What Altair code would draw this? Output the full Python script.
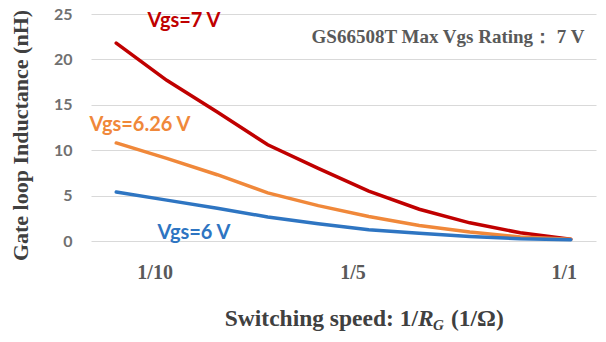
import altair as alt
import pandas as pd

# R_G = 10 ... 1 ohm  (index 0..9)
rg_index = [0, 1, 2, 3, 4, 5, 6, 7, 8, 9]
vgs7 = [21.8, 17.7, 14.2, 10.6, 8.0, 5.5, 3.5, 2.0, 0.9, 0.2]
vgs626 = [10.8, 9.1, 7.3, 5.3, 3.9, 2.7, 1.7, 1.0, 0.45, 0.2]
vgs6 = [5.4, 4.5, 3.6, 2.65, 1.9, 1.25, 0.85, 0.5, 0.25, 0.15]

series_names = ["Vgs=7 V", "Vgs=6.26 V", "Vgs=6 V"]
series_colors = ["#C00000", "#F0883A", "#2E75C2"]

tick_labels = ["1/10", "1/5", "1/1"]
tick_pos = [0.77, 4.69, 8.87]

rows = []
for name, vals in zip(series_names, [vgs7, vgs626, vgs6]):
    for i, v in zip(rg_index, vals):
        rows.append({"idx": i, "L": v, "series": name})
df = pd.DataFrame(rows)

xscale = alt.Scale(domain=[-0.5, 9.5], nice=False, zero=False)
yscale = alt.Scale(domain=[0, 25], nice=False)

lines = alt.Chart(df).mark_line(strokeWidth=3.5, strokeCap="round").encode(
    x=alt.X("idx:Q", scale=xscale, axis=None),
    y=alt.Y(
        "L:Q",
        scale=yscale,
        axis=alt.Axis(
            values=[0, 5, 10, 15, 20, 25],
            grid=True,
            gridColor="#d9d9d9",
            gridWidth=1,
            domain=False,
            ticks=False,
            labelFont="Lato",
            labelFontWeight="bold",
            labelFontSize=16,
            labelColor="#707070",
            labelPadding=19,
            title="Gate loop Inductance (nH)",
            titleFont="Liberation Serif",
            titleFontSize=22,
            titleFontWeight="bold",
            titleColor="#404040",
            titleX=-64,
            titleY=121,
            titleAngle=-90,
            titleBaseline="alphabetic",
            titleAlign="center",
        ),
    ),
    color=alt.Color(
        "series:N",
        scale=alt.Scale(domain=series_names, range=series_colors),
        legend=None,
    ),
    detail="series:N",
)

tick_df = pd.DataFrame({"pos": tick_pos, "label": tick_labels})
ticks = alt.Chart(tick_df).mark_text(
    font="Liberation Serif", fontWeight="bold", fontSize=20, color="#595959",
    baseline="alphabetic", align="center",
).encode(x=alt.X("pos:Q", scale=xscale), y=alt.value(265), text="label:N")

lab_df = pd.DataFrame({
    "text": series_names,
    "color": series_colors,
    "px": [93, 49, 103],
    "py": [13, 117, 225],
})
labels = alt.Chart(lab_df).mark_text(
    font="Lato", fontWeight="bold", fontSize=20, baseline="alphabetic", align="center",
).encode(
    x=alt.X("px:Q", scale=None),
    y=alt.Y("py:Q", scale=None),
    text="text:N",
    color=alt.Color("color:N", scale=None),
)

note = alt.Chart(pd.DataFrame({"t": ["GS66508T Max Vgs Rating：  7 V"]})).mark_text(
    font="Liberation Serif", fontWeight="bold", fontSize=19, color="#595959",
    baseline="alphabetic", align="center",
).encode(x=alt.value(357), y=alt.value(29), text="t:N")

xt_font = dict(font="Liberation Serif", fontWeight="bold", color="#404040", baseline="alphabetic")
xt1 = alt.Chart(pd.DataFrame({"t": ["Switching speed:  1/"]})).mark_text(
    fontSize=23.5, align="right", **xt_font
).encode(x=alt.value(327), y=alt.value(312), text="t:N")
xt2 = alt.Chart(pd.DataFrame({"t": ["R"]})).mark_text(
    fontSize=23.5, align="left", fontStyle="italic", **xt_font
).encode(x=alt.value(327), y=alt.value(312), text="t:N")
xt3 = alt.Chart(pd.DataFrame({"t": ["G"]})).mark_text(
    fontSize=15, align="left", fontStyle="italic", **xt_font
).encode(x=alt.value(342), y=alt.value(316), text="t:N")
xt4 = alt.Chart(pd.DataFrame({"t": ["(1/Ω)"]})).mark_text(
    fontSize=23.5, align="left", **xt_font
).encode(x=alt.value(360), y=alt.value(312), text="t:N")

chart = alt.layer(lines, ticks, labels, note, xt1, xt2, xt3, xt4).properties(
    width=505,
    height=227,
    autosize=alt.AutoSizeParams(type="none"),
    padding={"left": 83, "top": 6, "right": 2, "bottom": 92},
).configure_view(stroke=None)

chart.save("out.html", embed_options={"renderer": "svg", "actions": False})
